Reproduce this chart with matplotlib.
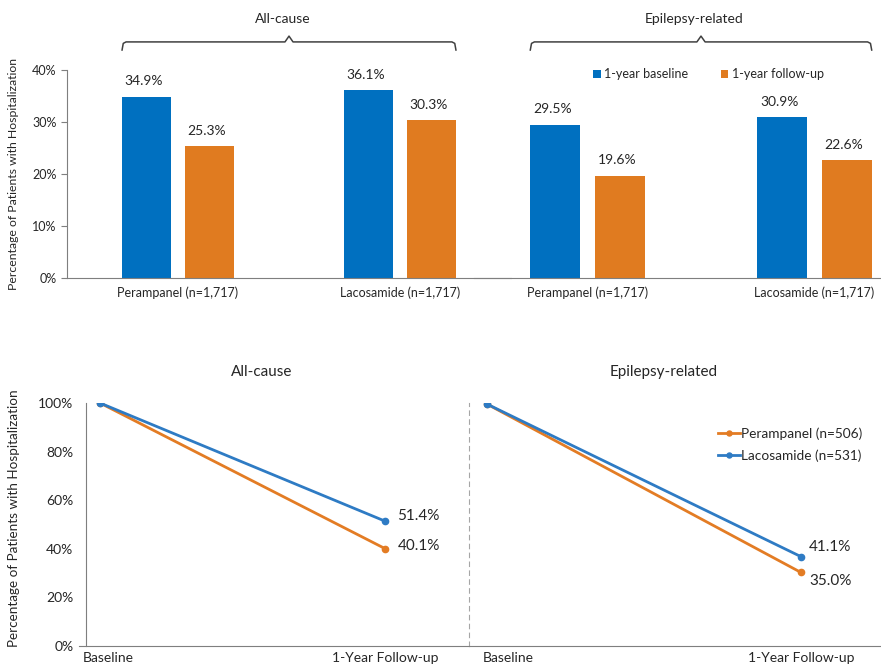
import matplotlib
matplotlib.use('Agg')
import matplotlib.pyplot as plt
from matplotlib.ticker import PercentFormatter
import matplotlib.transforms as mtransforms
import numpy as np

plt.rcParams['font.family'] = ['Lato', 'DejaVu Sans']

BLUE = '#0070C0'
ORANGE = '#E07B20'
LINE_BLUE = '#2E7BC4'
LINE_ORANGE = '#E37C24'
TXT = '#262626'
AXC = '#7f7f7f'

# bar panel data (share of patients with hospitalization)
drugs = ['Perampanel (n=1,717)', 'Lacosamide (n=1,717)']
allcause_baseline = [0.349, 0.361]
allcause_followup = [0.253, 0.303]
epi_baseline = [0.295, 0.309]
epi_followup = [0.196, 0.226]
bar_groups = ['All-cause', 'Epilepsy-related']
bar_series = ['1-year baseline', '1-year follow-up']

# line panel data (relative to baseline)
timepoints = ['Baseline', '1-Year Follow-up']
allcause_peram = [1.0, 0.401]
allcause_laco = [1.0, 0.514]
epi_peram = [1.0, 0.350]
epi_laco = [1.0, 0.411]
line_series = ['Perampanel (n=506)', 'Lacosamide (n=531)']

W, H = 881, 667
fig = plt.figure(figsize=(W / 100, H / 100), dpi=100)


def px_axes(x0, y_top, x1, y_bot):
    return fig.add_axes([x0 / W, (H - y_bot) / H, (x1 - x0) / W, (y_bot - y_top) / H])


def brace(ax, x0, x1, label):
    xm = (x0 + x1) / 2
    tr = ax.get_xaxis_transform()
    d = 0.012 * (x1 - x0)
    xs = [x0, x0 + d * 0.3, x0 + d, xm - d, xm, xm + d, x1 - d, x1 - d * 0.3, x1]
    ys = [1.096, 1.128, 1.135, 1.135, 1.163, 1.135, 1.135, 1.128, 1.096]
    ax.plot(xs, ys, transform=tr, color='#404040', lw=1.1, clip_on=False)
    ax.text(xm - 0.03, 1.245, label, transform=tr, ha='center', va='center',
            fontsize=10, color=TXT)


def bar_panel(ax, base, follow, label, xmax):
    x = np.arange(len(drugs))
    off, bw = 0.142, 0.22
    b1 = ax.bar(x - off, base, bw, color=BLUE, label=bar_series[0])
    b2 = ax.bar(x + off, follow, bw, color=ORANGE, label=bar_series[1])
    for bars, vals in ((b1, base), (b2, follow)):
        for r, v in zip(bars, vals):
            ax.annotate(f'{v * 100:.1f}%', (r.get_x() + r.get_width() / 2, v),
                        xytext=(-2, 7), textcoords='offset points', ha='center',
                        va='bottom', fontsize=10, color=TXT)
    ax.set_xlim(-0.5, xmax)
    ax.set_ylim(0, 0.4)
    ax.set_xticks(x)
    ax.set_xticklabels(drugs, fontsize=9, color=TXT)
    ax.tick_params(axis='x', length=0, pad=6)
    for s in ('top', 'right'):
        ax.spines[s].set_visible(False)
    ax.spines['bottom'].set_color(AXC)
    ax.set_facecolor('none')
    brace(ax, -off - bw / 2, 1 + off + bw / 2, label)
    return b1, b2


# top: bar charts
ax1 = px_axes(67, 70, 511, 278)
bar_panel(ax1, allcause_baseline, allcause_followup, bar_groups[0], 1.5)
ax1.yaxis.set_major_formatter(PercentFormatter(1.0, decimals=0))
ax1.set_yticks([0, 0.1, 0.2, 0.3, 0.4])
ax1.tick_params(axis='y', labelsize=9, labelcolor=TXT, length=4, color=AXC)
ax1.spines['left'].set_color(AXC)

ax2 = px_axes(474, 70, 881, 278)
bar_panel(ax2, epi_baseline, epi_followup, bar_groups[1], 1.293)
ax2.spines['left'].set_visible(False)
ax2.set_yticks([])
ax2.legend(loc='center left', bbox_to_anchor=(0.265, 0.98), ncol=2, frameon=False,
           fontsize=9, handlelength=0.6, handleheight=0.6, handletextpad=0.3,
           columnspacing=2.6, labelcolor=TXT)

fig.text(14 / W, (H - 174) / H, 'Percentage of Patients with Hospitalization',
         rotation=90, ha='center', va='center', fontsize=8.8, color=TXT)


# bottom: line charts
def line_panel(ax, peram, laco, title, title_x):
    x = np.arange(len(timepoints))
    ax.plot(x, peram, color=LINE_ORANGE, lw=2, marker='o', ms=4.5, label=line_series[0])
    ax.plot(x, laco, color=LINE_BLUE, lw=2, marker='o', ms=4.5, label=line_series[1])
    ax.set_xticks(x)
    ax.set_xticklabels(timepoints, fontsize=10, color=TXT)
    ax.tick_params(axis='x', length=0, pad=4)
    for s in ('top', 'right'):
        ax.spines[s].set_visible(False)
    ax.spines['bottom'].set_color(AXC)
    ax.set_facecolor('none')
    ax.text(title_x, 1.128, title, transform=ax.transAxes, ha='center', va='center',
            fontsize=11, color=TXT)
    return x


ax3 = px_axes(79, 403, 469, 646)
x = line_panel(ax3, allcause_peram, allcause_laco, 'All-cause', 0.469)
ax3.set_xlim(-0.0737, 1.295)
ax3.set_ylim(0, 1.0)
ax3.set_yticks(np.linspace(0, 1, 6))
ax3.yaxis.set_major_formatter(PercentFormatter(1.0, decimals=0))
ax3.tick_params(axis='y', labelsize=10, labelcolor=TXT, length=0, pad=9)
ax3.spines['left'].set_position(('data', -0.049))
ax3.spines['left'].set_color(AXC)
ax3.annotate(f'{allcause_laco[1] * 100:.1f}%', (x[1], allcause_laco[1]), xytext=(9, 4),
             textcoords='offset points', va='center', fontsize=11, color=TXT)
ax3.annotate(f'{allcause_peram[1] * 100:.1f}%', (x[1], allcause_peram[1]), xytext=(9, 2),
             textcoords='offset points', va='center', fontsize=11, color=TXT)
fig.text(14 / W, (H - 518) / H, 'Percentage of Patients with Hospitalization',
         rotation=90, ha='center', va='center', fontsize=9.7, color=TXT)

ax4 = px_axes(469, 403, 881, 646)
x = line_panel(ax4, epi_peram, epi_laco, 'Epilepsy-related', 0.473)
ax4.set_xlim(-0.057, 1.255)
ax4.set_ylim(0.066, 1.004)
ax4.set_yticks([])
ax4.spines['left'].set_linestyle((0, (4, 4)))
ax4.spines['left'].set_color('#a6a6a6')
ax4.annotate(f'{epi_laco[1] * 100:.1f}%', (x[1], epi_laco[1]), xytext=(6, 7),
             textcoords='offset points', va='center', fontsize=11, color=TXT)
ax4.annotate(f'{epi_peram[1] * 100:.1f}%', (x[1], epi_peram[1]), xytext=(6, -6),
             textcoords='offset points', va='center', fontsize=11, color=TXT)
ax4.legend(loc='upper left', bbox_to_anchor=(0.575, 0.95), frameon=False, fontsize=9.8,
           handlelength=1.6, handletextpad=0.1, labelspacing=0.7, markerscale=0.8,
           labelcolor=TXT)

# baseline labels sit left-aligned just past the axis
for ax, shift in ((ax3, -17), (ax4, -4)):
    lab = ax.get_xticklabels()[0]
    lab.set_horizontalalignment('left')
    lab.set_transform(lab.get_transform() + mtransforms.ScaledTranslation(shift / 100, 0, fig.dpi_scale_trans))

fig.savefig('out.png', dpi=100)
